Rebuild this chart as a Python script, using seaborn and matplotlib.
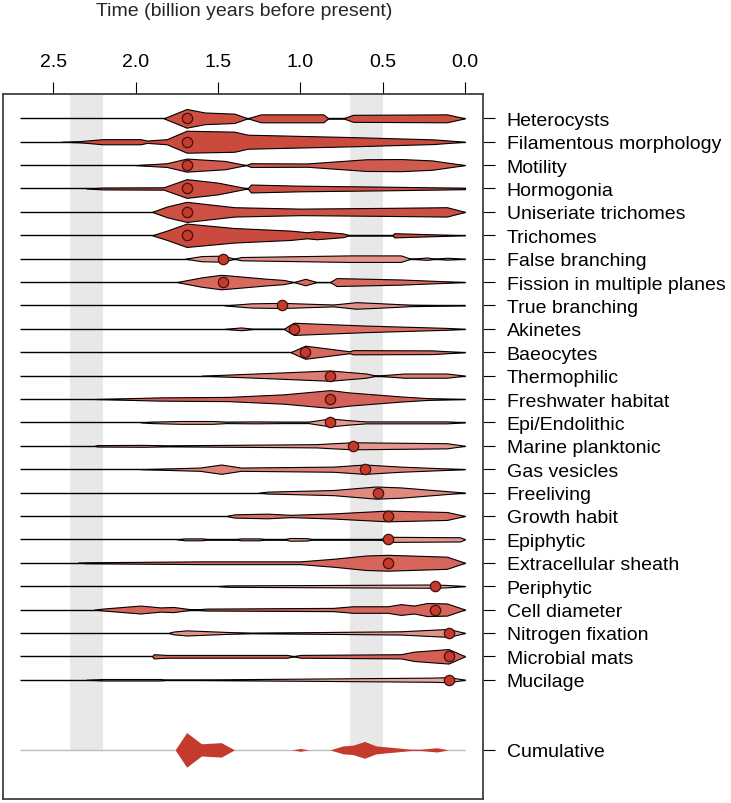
import numpy as np
import pandas as pd
import matplotlib.pyplot as plt
import seaborn as sns

# trait names, top to bottom
traits = ["Heterocysts", "Filamentous morphology", "Motility", "Hormogonia",
          "Uniseriate trichomes", "Trichomes", "False branching",
          "Fission in multiple planes", "True branching", "Akinetes", "Baeocytes",
          "Thermophilic", "Freshwater habitat", "Epi/Endolithic", "Marine planktonic",
          "Gas vesicles", "Freeliving", "Growth habit", "Epiphytic",
          "Extracellular sheath", "Periphytic", "Cell diameter", "Nitrogen fixation",
          "Microbial mats", "Mucilage"]

# violin outlines: (age in Gy, half width in row units)
heterocysts = [(1.83, 0), (1.69, 0.40), (1.58, 0.25), (1.40, 0.20), (1.32, 0), (1.24, 0.17),
               (0.86, 0.17), (0.83, 0), (0.74, 0), (0.68, 0.15), (0.11, 0.17), (0.0, 0)]
filamentous = [(2.45, 0), (2.33, 0.03), (2.2, 0.11), (1.97, 0.11), (1.93, 0.05), (1.81, 0.11),
               (1.69, 0.47), (1.40, 0.43), (1.32, 0.30), (0.70, 0.20), (0.19, 0.10), (0.0, 0)]
motility = [(2.0, 0), (1.93, 0.03), (1.81, 0.08), (1.69, 0.28), (1.46, 0.18), (1.33, 0),
            (1.30, 0.08), (0.96, 0.07), (0.6, 0.25), (0.39, 0.26), (0.2, 0.2), (0.0, 0)]
hormogonia = [(2.3, 0), (2.2, 0.04), (1.83, 0.05), (1.69, 0.40), (1.5, 0.25), (1.32, 0),
              (1.30, 0.17), (1.0, 0.12), (0.5, 0.08), (0.0, 0.03)]
uniseriate = [(1.90, 0), (1.81, 0.23), (1.69, 0.43), (1.40, 0.20), (1.0, 0.14), (0.5, 0.17),
              (0.11, 0.20), (0.0, 0)]
trichomes = [(1.9, 0), (1.81, 0.20), (1.69, 0.50), (1.40, 0.31), (1.06, 0.20), (0.96, 0.13),
             (0.9, 0.17), (0.74, 0.08), (0.70, 0), (0.44, 0), (0.43, 0.09), (0.0, 0)]
false_branching = [(1.70, 0), (1.6, 0.11), (1.47, 0.13), (1.40, 0), (1.36, 0.07), (0.7, 0.14),
                   (0.39, 0.14), (0.33, 0), (0.23, 0.05), (0.18, 0), (0.11, 0.04), (0.0, 0)]
fission = [(1.75, 0), (1.6, 0.20), (1.48, 0.31), (1.2, 0.14), (1.1, 0.09), (1.04, 0),
           (0.97, 0.14), (0.9, 0), (0.82, 0), (0.78, 0.17), (0.39, 0.11), (0.0, 0)]
true_branching = [(1.46, 0), (1.3, 0.09), (1.11, 0.11), (0.8, 0.04), (0.66, 0.14),
                  (0.5, 0.09), (0.33, 0.03), (0.0, 0)]
akinetes = [(1.46, 0), (1.36, 0.06), (1.28, 0), (1.1, 0), (1.07, 0.14), (1.04, 0.26),
            (0.6, 0.14), (0.11, 0.04), (0.0, 0)]
baeocytes = [(1.06, 0), (0.97, 0.28), (0.7, 0.04), (0.68, 0.09), (0.2, 0.08), (0.0, 0)]
thermophilic = [(1.6, 0), (1.2, 0.11), (0.82, 0.22), (0.6, 0.09), (0.54, 0), (0.37, 0.09),
                (0.11, 0.09), (0.0, 0)]
freshwater = [(2.25, 0), (1.85, 0.07), (1.44, 0.09), (1.1, 0.20), (0.82, 0.38), (0.7, 0.28),
              (0.39, 0.11), (0.23, 0.04), (0.0, 0)]
epi_endolithic = [(1.97, 0), (1.9, 0.03), (1.73, 0.06), (1.53, 0.06), (1.45, 0.03), (1.28, 0.04),
                  (1.1, 0.03), (0.95, 0.03), (0.82, 0.17), (0.7, 0.09), (0.6, 0.04),
                  (0.11, 0.04), (0.0, 0)]
marine = [(2.25, 0), (2.23, 0.03), (1.95, 0.04), (1.8, 0.02), (0.9, 0.07), (0.8, 0.11),
          (0.68, 0.15), (0.11, 0.11), (0.0, 0)]
gas_vesicles = [(1.97, 0), (1.61, 0.07), (1.48, 0.20), (1.36, 0.07), (0.8, 0.11), (0.61, 0.20),
                (0.39, 0.11), (0.0, 0)]
freeliving = [(1.25, 0), (1.2, 0.04), (0.8, 0.11), (0.54, 0.26), (0.39, 0.22), (0.0, 0)]
growth_habit = [(1.45, 0), (1.4, 0.07), (1.2, 0.10), (1.06, 0.05), (0.8, 0.11), (0.47, 0.23),
                (0.11, 0.17), (0.0, 0)]
epiphytic = [(1.75, 0), (1.7, 0.04), (1.6, 0.04), (1.55, 0), (1.4, 0), (1.36, 0.04),
             (1.25, 0.04), (1.2, 0), (1.1, 0), (1.06, 0.06), (0.96, 0.05), (0.92, 0),
             (0.52, 0), (0.47, 0.11), (0.03, 0.09), (0.0, 0)]
extracellular = [(2.35, 0), (2.3, 0.02), (1.6, 0.06), (1.0, 0.06), (0.8, 0.17), (0.6, 0.31),
                 (0.47, 0.34), (0.11, 0.26), (0.0, 0)]
periphytic = [(1.5, 0), (1.44, 0.03), (0.19, 0.07), (0.11, 0.05), (0.0, 0)]
cell_diameter = [(2.25, 0), (2.2, 0.04), (1.97, 0.17), (1.85, 0.09), (1.77, 0.11), (1.65, 0),
                 (1.57, 0.04), (0.8, 0.07), (0.68, 0.14), (0.47, 0.14), (0.39, 0.23),
                 (0.31, 0.17), (0.23, 0.28), (0.11, 0.26), (0.0, 0)]
nitrogen = [(1.8, 0), (1.77, 0.06), (1.69, 0.11), (1.44, 0.04), (1.3, 0.01), (0.39, 0.07),
            (0.1, 0.17), (0.0, 0)]
microbial_mats = [(1.9, 0), (1.89, 0.09), (1.81, 0.06), (1.08, 0.06), (1.04, 0), (1.0, 0.06),
                  (0.39, 0.09), (0.31, 0.20), (0.1, 0.31), (0.0, 0)]
mucilage = [(2.3, 0), (2.2, 0.03), (1.85, 0.03), (1.8, 0), (0.19, 0.09), (0.1, 0.11), (0.0, 0)]

shapes = [heterocysts, filamentous, motility, hormogonia, uniseriate, trichomes,
          false_branching, fission, true_branching, akinetes, baeocytes, thermophilic,
          freshwater, epi_endolithic, marine, gas_vesicles, freeliving, growth_habit,
          epiphytic, extracellular, periphytic, cell_diameter, nitrogen, microbial_mats,
          mucilage]

fill_colors = ["#cc4f42", "#cb4a3e", "#d15a4e", "#cc4e42", "#cd5044", "#cb4a3e",
               "#e3938a", "#d8695e", "#e19088", "#d96d62", "#d8685d", "#dd7c72",
               "#d4625a", "#e59d95", "#e3968d", "#de8279", "#e0897f", "#d96e64",
               "#e3978e", "#d6655b", "#e8a59d", "#d5645a", "#e2928a", "#d45f55",
               "#e8a69e"]

# point estimate of origin for each trait
dot_age = [1.69, 1.69, 1.69, 1.69, 1.69, 1.69, 1.47, 1.47, 1.11, 1.04, 0.97, 0.82, 0.82,
           0.82, 0.68, 0.61, 0.53, 0.47, 0.47, 0.47, 0.18, 0.18, 0.10, 0.10, 0.10]

cumulative = [(1.76, 0), (1.69, 0.74), (1.6, 0.26), (1.48, 0.31), (1.40, 0), (1.05, 0),
              (1.0, 0.06), (0.95, 0), (0.82, 0), (0.74, 0.17), (0.68, 0.20), (0.61, 0.36),
              (0.54, 0.17), (0.33, 0.03), (0.27, 0.03), (0.17, 0.09), (0.1, 0)]

bands = [(2.4, 2.2), (0.7, 0.5)]
age_ticks = [2.5, 2.0, 1.5, 1.0, 0.5, 0.0]

sns.set_style("white")
plt.rcParams['font.family'] = ['Liberation Sans', 'DejaVu Sans']

fig = plt.figure(figsize=(7.31, 8.04), dpi=100)
ax = fig.add_axes([3 / 731, 4 / 804, 480 / 731, 705 / 804])
cum_row = len(traits) + 2

# grey time bands
for lo, hi in bands:
    ax.fill_between([lo, hi], -2, cum_row, color="#e8e8e8", lw=0, zorder=0)

# baselines + violins
ax.hlines(range(len(traits)), 2.7, 0.0, color="black", lw=1, zorder=1)
for i, (knots, col) in enumerate(zip(shapes, fill_colors)):
    a = np.array([k[0] for k in knots])
    w = np.array([k[1] for k in knots])
    ax.fill_between(a, i - w, i + w, facecolor=col, edgecolor="black", lw=0.8, zorder=2)

dots = pd.DataFrame({"age": dot_age, "row": range(len(traits))})
sns.scatterplot(data=dots, x="age", y="row", s=55, color="#c8392b",
                edgecolor="#3a120e", linewidth=0.9, zorder=5, ax=ax)

# cumulative row
ax.hlines(cum_row, 2.7, 0.0, color="#bdbdbd", lw=1, zorder=1)
ca = np.array([k[0] for k in cumulative])
cw = np.array([k[1] for k in cumulative])
ax.fill_between(ca, cum_row - cw, cum_row + cw, facecolor="#c43a2c", lw=0, zorder=2)

ax.set_xlim(2.805, -0.109)
ax.set_ylim(29.1, -1.04)
ax.set_xlabel("")
ax.set_ylabel("")

ax.xaxis.tick_top()
ax.set_xticks(age_ticks)
ax.set_xticklabels([f"{t:.1f}" for t in age_ticks])
ax.tick_params(axis="x", direction="out", length=8.5, width=0.8, pad=8.5,
               labelsize=14, top=True, bottom=False, colors="black")

ax.yaxis.tick_right()
ax.set_yticks(list(range(len(traits))) + [cum_row])
ax.set_yticklabels(traits + ["Cumulative"])
ax.tick_params(axis="y", direction="out", length=8.5, width=0.8, pad=8.5,
               labelsize=14, right=True, left=False, colors="black")

for s in ax.spines.values():
    s.set_color("#404040")
    s.set_linewidth(1.3)

fig.text(244 / 731, 1 - 11.5 / 804, "Time (billion years before present)",
         ha="center", va="center", fontsize=14)

fig.savefig("out.png", dpi=100)
